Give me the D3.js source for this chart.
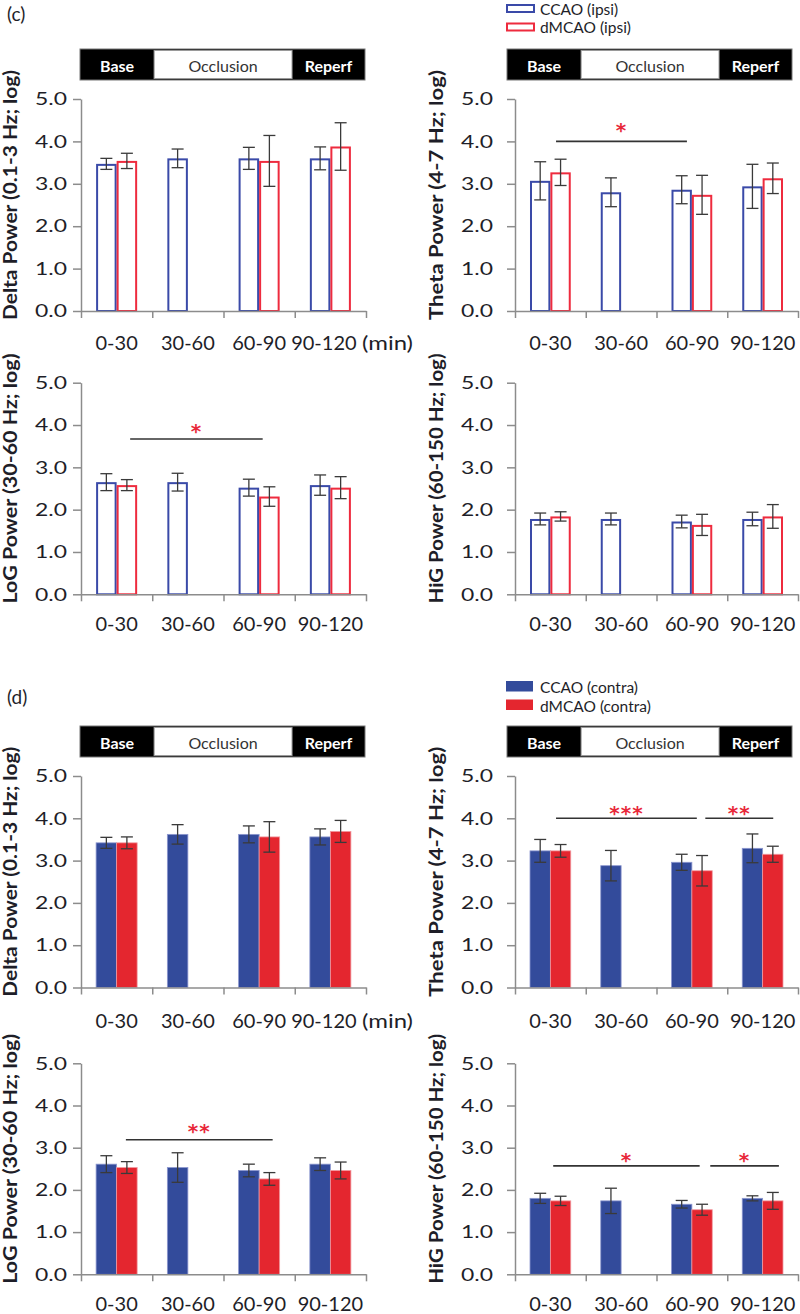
<!DOCTYPE html>
<html>
<head>
<meta charset="utf-8">
<script src="https://cdn.jsdelivr.net/npm/d3@7"></script>
<style>
  html, body { margin: 0; padding: 0; background: #fff; }
  svg { display: block; }
</style>
</head>
<body>
<svg id="chart" width="800" height="1314"></svg>
<script>
// ---------------- DATA ----------------
const categories = ["0-30", "30-60", "60-90", "90-120"];
const yTicks = [0, 1, 2, 3, 4, 5];
const phaseLabels = ["Base", "Occlusion", "Reperf"];
const legendIpsi = ["CCAO (ipsi)", "dMCAO (ipsi)"];
const legendContra = ["CCAO (contra)", "dMCAO (contra)"];
const axisTitles = ["Delta Power (0.1-3 Hz; log)", "Theta Power (4-7 Hz; log)",
                    "LoG Power (30-60 Hz; log)", "HiG Power (60-150 Hz; log)"];

// (c) ipsilateral
const cDeltaCCAO = [3.47, 3.60, 3.60, 3.60];
const cDeltaCCAOErr = [0.13, 0.22, 0.26, 0.27];
const cDeltaDMCAO = [3.54, null, 3.54, 3.88];
const cDeltaDMCAOErr = [0.18, null, 0.60, 0.56];

const cThetaCCAO = [3.07, 2.80, 2.86, 2.94];
const cThetaCCAOErr = [0.45, 0.34, 0.33, 0.52];
const cThetaDMCAO = [3.27, null, 2.74, 3.13];
const cThetaDMCAOErr = [0.31, null, 0.46, 0.36];

const cLoGCCAO = [2.65, 2.65, 2.52, 2.58];
const cLoGCCAOErr = [0.20, 0.21, 0.20, 0.24];
const cLoGDMCAO = [2.58, null, 2.31, 2.52];
const cLoGDMCAOErr = [0.13, null, 0.23, 0.26];

const cHiGCCAO = [1.78, 1.78, 1.72, 1.78];
const cHiGCCAOErr = [0.14, 0.14, 0.15, 0.16];
const cHiGDMCAO = [1.84, null, 1.64, 1.84];
const cHiGDMCAOErr = [0.11, null, 0.25, 0.28];

// (d) contralateral
const dDeltaCCAO = [3.42, 3.62, 3.62, 3.56];
const dDeltaCCAOErr = [0.13, 0.23, 0.20, 0.19];
const dDeltaDMCAO = [3.42, null, 3.56, 3.69];
const dDeltaDMCAOErr = [0.14, null, 0.36, 0.26];

const dThetaCCAO = [3.23, 2.88, 2.96, 3.29];
const dThetaCCAOErr = [0.27, 0.36, 0.19, 0.34];
const dThetaDMCAO = [3.23, null, 2.76, 3.15];
const dThetaDMCAOErr = [0.15, null, 0.36, 0.19];

const dLoGCCAO = [2.61, 2.53, 2.46, 2.61];
const dLoGCCAOErr = [0.20, 0.35, 0.15, 0.15];
const dLoGDMCAO = [2.53, null, 2.26, 2.46];
const dLoGDMCAOErr = [0.14, null, 0.15, 0.20];

const dHiGCCAO = [1.80, 1.74, 1.66, 1.80];
const dHiGCCAOErr = [0.12, 0.30, 0.09, 0.06];
const dHiGDMCAO = [1.74, null, 1.53, 1.74];
const dHiGDMCAOErr = [0.11, null, 0.13, 0.20];

// significance brackets (x in category units 0..4, y in data units)
const cThetaSig = [{ from: 0.58, to: 2.43, y: 4.0, labelY: 4.39, label: "*" }];
const cLoGSig = [{ from: 0.69, to: 2.55, y: 3.67, labelY: 3.98, label: "*" }];
const dThetaSig = [{ from: 0.58, to: 2.57, y: 4.0, labelY: 4.25, label: "***" },
                   { from: 2.69, to: 3.65, y: 4.0, labelY: 4.25, label: "**" }];
const dLoGSig = [{ from: 0.63, to: 2.69, y: 3.19, labelY: 3.51, label: "**" }];
const dHiGSig = [{ from: 0.54, to: 2.61, y: 2.57, labelY: 2.82, label: "*" },
                 { from: 2.76, to: 3.73, y: 2.57, labelY: 2.82, label: "*" }];

// ---------------- STYLE / LAYOUT ----------------
const BLUE_LINE = "#3a4aa8", RED_LINE = "#ee2b3e";
const BLUE_FILL = "#334b9b", RED_FILL = "#e4262f";
const AXIS = "#8c8c8c", TEXT = "#1e1e28", ERR = "#3a3a3a";
const FONT = "Lato, 'Open Sans', sans-serif";

const LEFT = { left: 81, right: 366, tickPad: 6, titleX: 17, bannerL: 80, bannerR: 365 };
const RIGHT = { left: 515, right: 798, tickPad: 14, titleX: 443, bannerL: 507, bannerR: 792 };

const panels = [
  { col: LEFT,  y0: 311,   y5: 99,    title: axisTitles[0], a: cDeltaCCAO, ae: cDeltaCCAOErr, b: cDeltaDMCAO, be: cDeltaDMCAOErr, filled: false, sig: [], banner: [49, 80], labelY: 350, min: true },
  { col: RIGHT, y0: 311,   y5: 99,    title: axisTitles[1], a: cThetaCCAO, ae: cThetaCCAOErr, b: cThetaDMCAO, be: cThetaDMCAOErr, filled: false, sig: cThetaSig, banner: [49, 80], labelY: 350 },
  { col: LEFT,  y0: 594.3, y5: 382.7, title: axisTitles[2], a: cLoGCCAO, ae: cLoGCCAOErr, b: cLoGDMCAO, be: cLoGDMCAOErr, filled: false, sig: cLoGSig, labelY: 631 },
  { col: RIGHT, y0: 594.3, y5: 382.7, title: axisTitles[3], a: cHiGCCAO, ae: cHiGCCAOErr, b: cHiGDMCAO, be: cHiGDMCAOErr, filled: false, sig: [], labelY: 631 },
  { col: LEFT,  y0: 987.5, y5: 776,   title: axisTitles[0], a: dDeltaCCAO, ae: dDeltaCCAOErr, b: dDeltaDMCAO, be: dDeltaDMCAOErr, filled: true, sig: [], banner: [726, 757], labelY: 1028, min: true },
  { col: RIGHT, y0: 987.5, y5: 776,   title: axisTitles[1], a: dThetaCCAO, ae: dThetaCCAOErr, b: dThetaDMCAO, be: dThetaDMCAOErr, filled: true, sig: dThetaSig, banner: [726, 757], labelY: 1028 },
  { col: LEFT,  y0: 1274.3, y5: 1063.3, title: axisTitles[2], a: dLoGCCAO, ae: dLoGCCAOErr, b: dLoGDMCAO, be: dLoGDMCAOErr, filled: true, sig: dLoGSig, labelY: 1311 },
  { col: RIGHT, y0: 1274.3, y5: 1063.3, title: axisTitles[3], a: dHiGCCAO, ae: dHiGCCAOErr, b: dHiGDMCAO, be: dHiGDMCAOErr, filled: true, sig: dHiGSig, labelY: 1311 }
];

const svg = d3.select("#chart");

// panel letters
svg.append("text").attr("x", 7).attr("y", 21).attr("font-family", FONT).attr("font-size", 19).attr("fill", TEXT).text("(c)");
svg.append("text").attr("x", 7).attr("y", 704).attr("font-family", FONT).attr("font-size", 19).attr("fill", TEXT).text("(d)");

panels.forEach(p => {
  const g = svg.append("g");
  const y = d3.scaleLinear().domain([0, 5]).range([p.y0, p.y5]);
  const xb = d3.scaleBand().domain(categories).range([p.col.left, p.col.right]).paddingInner(0).paddingOuter(0);
  const xl = d3.scaleLinear().domain([0, 4]).range([p.col.left, p.col.right]);
  const bw = xb.bandwidth() * 0.288;

  // phase banner
  if (p.banner) {
    const bs = d3.scaleLinear().domain([0, 1]).range([p.col.bannerL, p.col.bannerR]);
    const cuts = [0, 0.26, 0.744, 1];
    const bg = g.append("g");
    bg.append("rect").attr("x", bs(0)).attr("y", p.banner[0]).attr("width", bs(1) - bs(0)).attr("height", p.banner[1] - p.banner[0])
      .attr("fill", "#000").attr("stroke", "#777").attr("stroke-width", 1);
    bg.append("rect").attr("x", bs(cuts[1])).attr("y", p.banner[0] + 1.5).attr("width", bs(cuts[2]) - bs(cuts[1])).attr("height", p.banner[1] - p.banner[0] - 3)
      .attr("fill", "#fff").attr("stroke", "#9a9a9a").attr("stroke-width", 1);
    phaseLabels.forEach((t, i) => {
      bg.append("text").attr("x", (bs(cuts[i]) + bs(cuts[i + 1])) / 2).attr("y", p.banner[1] - 8.5)
        .attr("text-anchor", "middle").attr("font-family", FONT)
        .attr("font-size", 16).attr("font-weight", i === 1 ? 400 : 700)
        .attr("fill", i === 1 ? "#333" : "#fff").text(t);
    });
  }

  // bars
  [[p.a, p.ae, 0], [p.b, p.be, 1]].forEach(([vals, errs, s]) => {
    vals.forEach((v, i) => {
      if (v == null) return;
      const cx = xb(categories[i]) + xb.bandwidth() / 2;
      const x0 = s === 0 ? cx - bw : cx;
      if (p.filled) {
        g.append("rect").attr("x", x0).attr("y", y(v)).attr("width", bw).attr("height", y(0) - y(v))
          .attr("fill", s === 0 ? BLUE_FILL : RED_FILL)
          .attr("stroke", s === 0 ? "#8d97cf" : "#f19aa0").attr("stroke-width", 0.8);
      } else {
        g.append("rect").attr("x", x0 + 1).attr("y", y(v) + 1).attr("width", bw - 2).attr("height", y(0) - y(v) - 1)
          .attr("fill", "#fff").attr("stroke", s === 0 ? BLUE_LINE : RED_LINE).attr("stroke-width", 2);
      }
      const bc = x0 + bw / 2, e = errs[i];
      const eg = g.append("g").attr("stroke", ERR).attr("stroke-width", 1.3).attr("fill", "none");
      eg.append("line").attr("x1", bc).attr("x2", bc).attr("y1", y(v - e)).attr("y2", y(v + e));
      eg.append("line").attr("x1", bc - 6).attr("x2", bc + 6).attr("y1", y(v - e)).attr("y2", y(v - e));
      eg.append("line").attr("x1", bc - 6).attr("x2", bc + 6).attr("y1", y(v + e)).attr("y2", y(v + e));
    });
  });

  // y axis
  const ya = g.append("g").attr("transform", `translate(${p.col.left},0)`)
    .call(d3.axisLeft(y).tickValues(yTicks).tickFormat(d3.format(".1f")).tickSize(8).tickSizeOuter(0).tickPadding(p.col.tickPad));
  ya.selectAll("path, line").attr("stroke", AXIS).attr("stroke-width", 1.5);
  ya.selectAll("text").attr("font-family", FONT).attr("font-size", 18).attr("fill", TEXT)
    .attr("textLength", 32).attr("lengthAdjust", "spacingAndGlyphs");

  // x axis
  const xa = g.append("g").attr("transform", `translate(0,${p.y0})`)
    .call(d3.axisBottom(xl).tickValues([0, 1, 2, 3, 4]).tickFormat("").tickSize(7).tickSizeOuter(0));
  xa.selectAll("path, line").attr("stroke", AXIS).attr("stroke-width", 1.5);

  // category labels
  categories.forEach((c, i) => {
    g.append("text").attr("x", xb(c) + xb.bandwidth() / 2 + (p.min && i === 3 ? -6.5 : 0)).attr("y", p.labelY)
      .attr("text-anchor", "middle").attr("font-family", FONT).attr("font-size", 20).attr("fill", TEXT).text(c);
  });
  if (p.min) {
    g.append("text").attr("x", p.col.right - 4).attr("y", p.labelY).attr("font-family", FONT)
      .attr("font-size", 20).attr("fill", TEXT).attr("textLength", 51).attr("lengthAdjust", "spacingAndGlyphs").text("(min)");
  }

  // axis title
  const ty = (p.y0 + p.y5) / 2 - 10;
  g.append("text").attr("transform", `translate(${p.col.titleX},${ty}) rotate(-90)`)
    .attr("text-anchor", "middle").attr("font-family", FONT).attr("font-weight", 700).attr("font-size", 18)
    .attr("fill", TEXT).attr("textLength", 250).attr("lengthAdjust", "spacingAndGlyphs").text(p.title);

  // significance
  p.sig.forEach(s => {
    g.append("line").attr("x1", xl(s.from)).attr("x2", xl(s.to)).attr("y1", y(s.y)).attr("y2", y(s.y))
      .attr("stroke", "#333").attr("stroke-width", 1.6);
    g.append("text").attr("x", (xl(s.from) + xl(s.to)) / 2).attr("y", y(s.labelY) + 12)
      .attr("text-anchor", "middle").attr("font-family", "'DejaVu Sans', sans-serif").attr("font-weight", 700)
      .attr("font-size", 20).attr("letter-spacing", 1).attr("fill", "#e8283a").text(s.label);
  });
});

// legends
function legend(labels, top, filled) {
  const lg = svg.append("g");
  labels.forEach((t, i) => {
    const yy = top + i * 18.5;
    if (filled) {
      lg.append("rect").attr("x", 506).attr("y", yy).attr("width", 27).attr("height", 10.5)
        .attr("fill", i === 0 ? BLUE_FILL : RED_FILL);
    } else {
      lg.append("rect").attr("x", 507).attr("y", yy + 1).attr("width", 27).attr("height", 7)
        .attr("fill", "#fff").attr("stroke", i === 0 ? BLUE_LINE : RED_LINE).attr("stroke-width", 2);
    }
    lg.append("text").attr("x", 540).attr("y", yy + (filled ? 12 : 10.5)).attr("font-family", FONT)
      .attr("font-size", 15.5).attr("fill", TEXT).text(t);
  });
}
legend(legendIpsi, 4, false);
legend(legendContra, 681, true);
</script>
</body>
</html>
